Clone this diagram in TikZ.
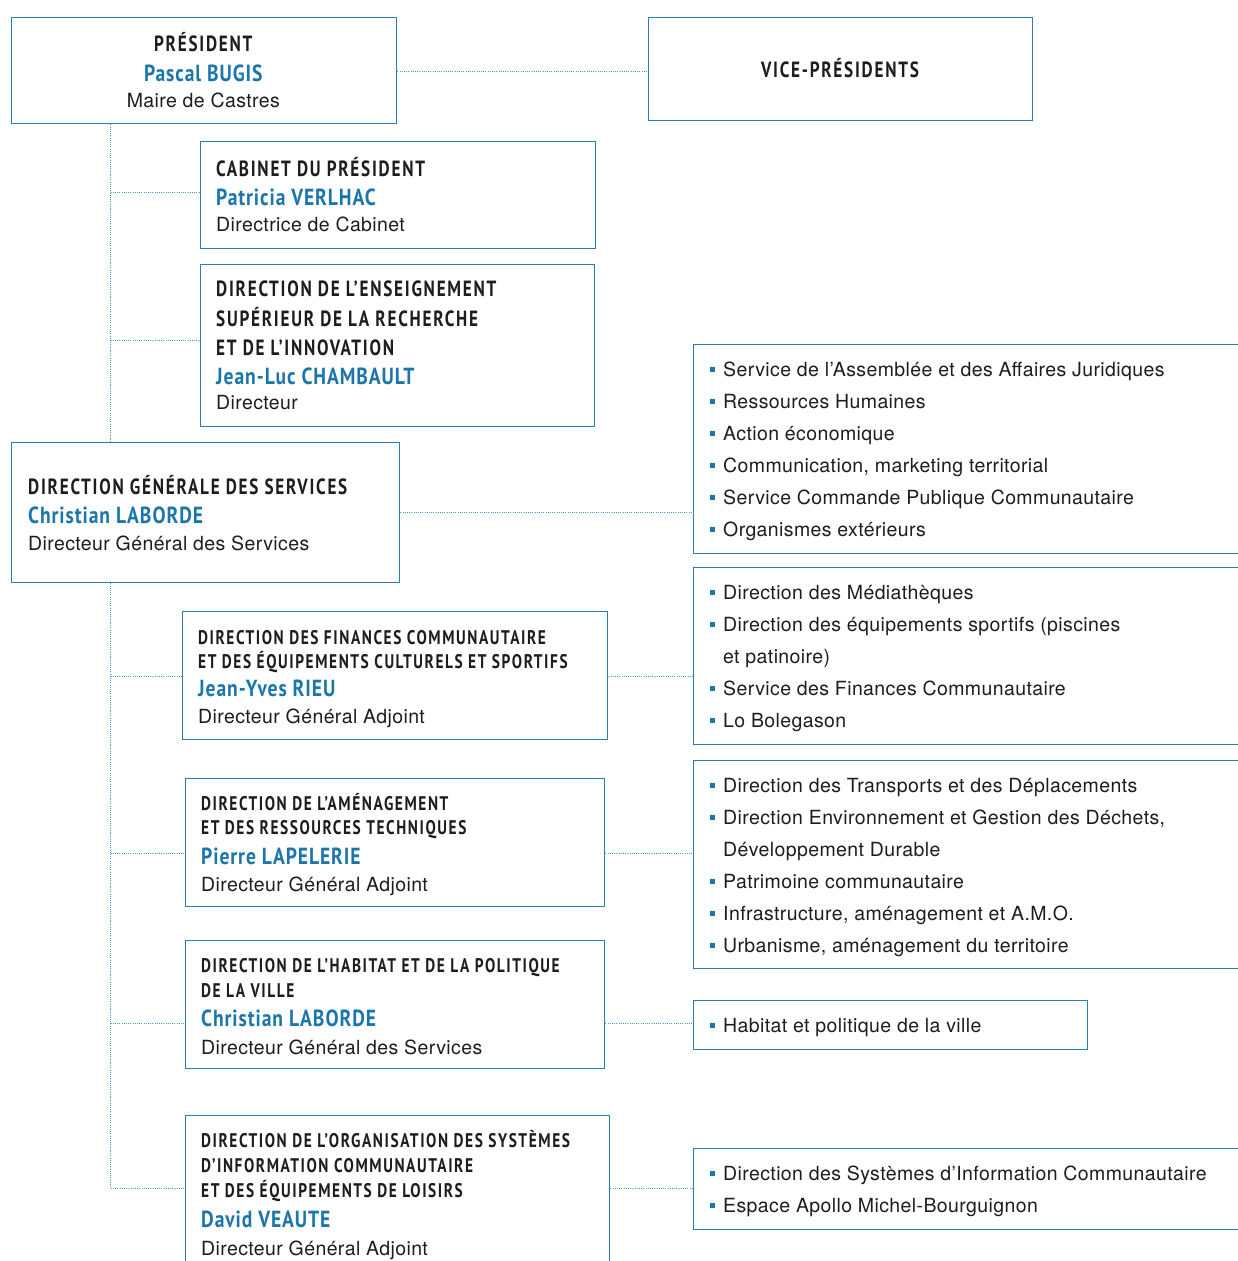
\documentclass[tikz,border=0pt]{standalone}
\usepackage{fontspec}
\setmainfont{TeX Gyre Heros}[LetterSpace=2]
\newfontfamily\hdfont{PT Sans}[FakeStretch=0.78,LetterSpace=8]
\newfontfamily\nmfont{PT Sans}[FakeStretch=0.84,LetterSpace=4]
\definecolor{ocblue}{HTML}{1B76AB}
\definecolor{lineblue}{HTML}{2580B6}
\definecolor{dotblue}{HTML}{4A9BCD}
\definecolor{dark}{HTML}{1F1C1D}
\newcommand\blt{{\color{ocblue}\rule[5pt]{5pt}{5pt}}\hspace{8pt}}
\tikzset{
  box/.style={draw=lineblue, line width=1.3pt, rectangle, inner sep=0pt, anchor=north west},
  conn/.style={draw=dotblue, line width=1pt, dash pattern=on 1pt off 1.2pt},
  hdL/.style={font=\hdfont\bfseries\fontsize{22}{22}\selectfont, text=dark, inner sep=0pt},
  hd/.style={font=\hdfont\bfseries\fontsize{22}{22}\selectfont, text=dark, inner sep=0pt},
  hds/.style={font=\hdfont\bfseries\fontsize{19.7}{19.7}\selectfont, text=dark, inner sep=0pt},
  nm/.style={font=\nmfont\bfseries\fontsize{23.3}{23.3}\selectfont, text=ocblue, inner sep=0pt},
  rl/.style={font=\fontsize{19.5}{19.5}\selectfont, text=dark, inner sep=0pt},
  lw/.style={anchor=base west},
  lc/.style={anchor=base},
}
\begin{document}
\begin{tikzpicture}[x=1pt,y=-1pt]
\useasboundingbox (0,0) rectangle (1238,1261);
\fill[white] (0,0) rectangle (1238,1261);
\clip (0,0) rectangle (1238,1261);
% boxes
\node[box, minimum width=385pt, minimum height=106pt] (pres) at (11,17) {};
\node[box, minimum width=384pt, minimum height=103pt] (vp) at (648,17) {};
\node[box, minimum width=395pt, minimum height=107pt] (cab) at (200,141) {};
\node[box, minimum width=394pt, minimum height=162pt] (ens) at (200,264) {};
\node[box, minimum width=388pt, minimum height=140pt] (dgs) at (11,442) {};
\node[box, minimum width=425pt, minimum height=128pt] (fin) at (182,611) {};
\node[box, minimum width=419pt, minimum height=128pt] (ame) at (185,778) {};
\node[box, minimum width=419pt, minimum height=128pt] (hab) at (185,940) {};
\node[box, minimum width=424pt, minimum height=170pt] (org) at (185,1115) {};
\node[box, minimum width=567pt, minimum height=209pt] (r1) at (693,344) {};
\node[box, minimum width=567pt, minimum height=177pt] (r2) at (693,567) {};
\node[box, minimum width=567pt, minimum height=208pt] (r3) at (693,760) {};
\node[box, minimum width=394pt, minimum height=49pt] (r4) at (693,1000) {};
\node[box, minimum width=567pt, minimum height=81pt] (r5) at (693,1148) {};
% connector levels
\coordinate (tr) at (110.5,0);
\coordinate (yvp) at (0,71);
\coordinate (ycab) at (0,192);
\coordinate (yens) at (0,340);
\coordinate (ydgs) at (0,512);
\coordinate (yfin) at (0,676);
\coordinate (yame) at (0,853);
\coordinate (yhab) at (0,1023);
\coordinate (yorg) at (0,1188);
\draw[conn] (pres.east |- yvp) -- (vp.west |- yvp);
\draw[conn] (tr |- pres.south) -- (tr |- dgs.north);
\draw[conn] (tr |- dgs.south) -- (tr |- yorg) -- (org.west |- yorg);
\draw[conn] (tr |- ycab) -- (cab.west |- ycab);
\draw[conn] (tr |- yens) -- (ens.west |- yens);
\draw[conn] (dgs.east |- ydgs) -- (r1.west |- ydgs);
\draw[conn] (tr |- yfin) -- (fin.west |- yfin);
\draw[conn] (fin.east |- yfin) -- (r2.west |- yfin);
\draw[conn] (tr |- yame) -- (ame.west |- yame);
\draw[conn] (ame.east |- yame) -- (r3.west |- yame);
\draw[conn] (tr |- yhab) -- (hab.west |- yhab);
\draw[conn] (hab.east |- yhab) -- (r4.west |- yhab);
\draw[conn] (org.east |- yorg) -- (r5.west |- yorg);
% president
\node[hdL, lc] (p1) at (203.3,51.7) {PRÉSIDENT};
\node[nm, lc] (p2) at (203.3,81) {Pascal BUGIS};
\node[rl, lc] (p3) at (203.3,107) {Maire de Castres};
\node[hdL, lc] (v1) at (840,77.5) {VICE-PRÉSIDENTS};
% cabinet
\node[hd, lw] (c1) at (216,176) {CABINET DU PRÉSIDENT};
\node[nm, lw] (c2) at (216,205) {Patricia VERLHAC};
\node[rl, lw] (c3) at (216,231) {Directrice de Cabinet};
% enseignement
\node[hd, lw] (e1) at (216,296.7) {DIRECTION DE L’ENSEIGNEMENT};
\node[hd, lw] (e2) at (216,326) {SUPÉRIEUR DE LA RECHERCHE};
\node[hd, lw] (e3) at (216,355) {ET DE L’INNOVATION};
\node[nm, lw] (e4) at (216,384.3) {Jean-Luc CHAMBAULT};
\node[rl, lw] (e5) at (216,409.3) {Directeur};
% dgs
\node[hd, lw] (d1) at (28,494.5) {DIRECTION GÉNÉRALE DES SERVICES};
\node[nm, lw] (d2) at (28,523) {Christian LABORDE};
\node[rl, lw] (d3) at (28,550) {Directeur Général des Services};
% finances
\node[hds, lw] (f1) at (198,644) {DIRECTION DES FINANCES COMMUNAUTAIRE};
\node[hds, lw] (f2) at (198,668.3) {ET DES ÉQUIPEMENTS CULTURELS ET SPORTIFS};
\node[nm, lw] (f3) at (198,696.7) {Jean-Yves RIEU};
\node[rl, lw] (f4) at (198,723.3) {Directeur Général Adjoint};
% amenagement
\node[hds, lw] (a1) at (201,810) {DIRECTION DE L’AMÉNAGEMENT};
\node[hds, lw] (a2) at (201,834) {ET DES RESSOURCES TECHNIQUES};
\node[nm, lw] (a3) at (201,864) {Pierre LAPELERIE};
\node[rl, lw] (a4) at (201,891) {Directeur Général Adjoint};
% habitat
\node[hds, lw] (h1) at (201,972.3) {DIRECTION DE L’HABITAT ET DE LA POLITIQUE};
\node[hds, lw] (h2) at (201,997.3) {DE LA VILLE};
\node[nm, lw] (h3) at (201,1026.7) {Christian LABORDE};
\node[rl, lw] (h4) at (201,1054.3) {Directeur Général des Services};
% organisation
\node[hds, lw] (o1) at (201,1147.3) {DIRECTION DE L’ORGANISATION DES SYSTÈMES};
\node[hds, lw] (o2) at (201,1172.3) {D’INFORMATION COMMUNAUTAIRE};
\node[hds, lw] (o3) at (201,1197.3) {ET DES ÉQUIPEMENTS DE LOISIRS};
\node[nm, lw] (o4) at (201,1227.3) {David VEAUTE};
\node[rl, lw] (o5) at (201,1255) {Directeur Général Adjoint};
% list 1
\node[rl, lw] (l1a) at (710,376.5) {\blt Service de l’Assemblée et des Affaires Juridiques};
\node[rl, lw] (l1b) at (710,408.5) {\blt Ressources Humaines};
\node[rl, lw] (l1c) at (710,440.5) {\blt Action économique};
\node[rl, lw] (l1d) at (710,472.5) {\blt Communication, marketing territorial};
\node[rl, lw] (l1e) at (710,504.5) {\blt Service Commande Publique Communautaire};
\node[rl, lw] (l1f) at (710,536.5) {\blt Organismes extérieurs};
% list 2
\node[rl, lw] (l2a) at (710,599.5) {\blt Direction des Médiathèques};
\node[rl, lw] (l2b) at (710,631.5) {\blt Direction des équipements sportifs (piscines};
\node[rl, lw] (l2c) at (723,663.5) {et patinoire)};
\node[rl, lw] (l2d) at (710,695.5) {\blt Service des Finances Communautaire};
\node[rl, lw] (l2e) at (710,727.5) {\blt Lo Bolegason};
% list 3
\node[rl, lw] (l3a) at (710,792.5) {\blt Direction des Transports et des Déplacements};
\node[rl, lw] (l3b) at (710,824.5) {\blt Direction Environnement et Gestion des Déchets,};
\node[rl, lw] (l3c) at (723,856.5) {Développement Durable};
\node[rl, lw] (l3d) at (710,888.5) {\blt Patrimoine communautaire};
\node[rl, lw] (l3e) at (710,920.5) {\blt Infrastructure, aménagement et A.M.O.};
\node[rl, lw] (l3f) at (710,952.5) {\blt Urbanisme, aménagement du territoire};
% list 4
\node[rl, lw] (l4a) at (710,1032.5) {\blt Habitat et politique de la ville};
% list 5
\node[rl, lw] (l5a) at (710,1180.5) {\blt Direction des Systèmes d’Information Communautaire};
\node[rl, lw] (l5b) at (710,1212.5) {\blt Espace Apollo Michel-Bourguignon};
\end{tikzpicture}
\end{document}
